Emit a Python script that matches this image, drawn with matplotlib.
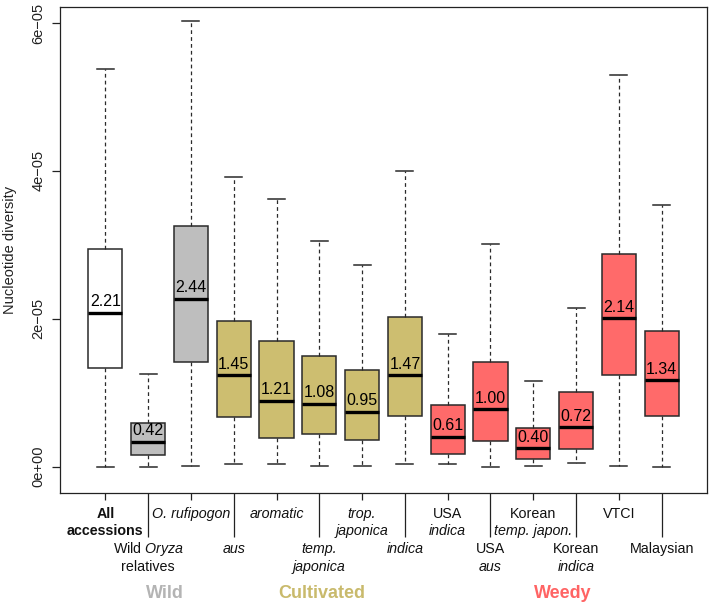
import matplotlib
matplotlib.use('Agg')
import matplotlib.pyplot as plt
from matplotlib.transforms import blended_transform_factory

plt.rcParams['font.family'] = ['Liberation Sans', 'DejaVu Sans']
plt.rcParams['mathtext.fontset'] = 'custom'
plt.rcParams['mathtext.rm'] = 'Liberation Sans'
plt.rcParams['mathtext.it'] = 'Liberation Sans:italic'
plt.rcParams['mathtext.bf'] = 'Liberation Sans:bold'

# ---------------- data (values in units of 1e-6) ----------------
groups = ['All accessions', 'Wild Oryza relatives', 'O. rufipogon', 'aus', 'aromatic',
          'temp. japonica', 'trop. japonica', 'indica', 'USA indica', 'USA aus',
          'Korean temp. japon.', 'Korean indica', 'VTCI', 'Malaysian']
whisk_lo = [0.0, 0.0, 0.1, 0.36, 0.36, 0.15, 0.1, 0.3, 0.4, 0.0, 0.15, 0.45, 0.1, 0.0]
q1 = [13.3, 1.54, 14.1, 6.7, 3.9, 4.4, 3.6, 6.9, 1.7, 3.5, 1.0, 2.4, 12.4, 6.86]
med = [20.8, 3.4, 22.7, 12.4, 8.9, 8.5, 7.4, 12.4, 4.06, 7.8, 2.5, 5.3, 20.1, 11.7]
q3 = [29.5, 5.95, 32.5, 19.7, 17.0, 14.9, 13.1, 20.2, 8.3, 14.1, 5.2, 10.1, 28.7, 18.35]
whisk_hi = [53.8, 12.5, 60.2, 39.2, 36.2, 30.5, 27.3, 40.0, 18.0, 30.1, 11.6, 21.4, 53.0, 35.4]
mean_labels = ['2.21', '0.42', '2.44', '1.45', '1.21', '1.08', '0.95', '1.47',
               '0.61', '1.00', '0.40', '0.72', '2.14', '1.34']
category = ['all', 'wild', 'wild', 'cult', 'cult', 'cult', 'cult', 'cult',
            'weedy', 'weedy', 'weedy', 'weedy', 'weedy', 'weedy']

# tick label lines: (text, style) where style is 'normal', 'italic', 'bold' or 'math'
tick_lines = [
    [('All', 'bold'), ('accessions', 'bold')],
    [(r'Wild $\mathit{Oryza}$', 'math'), ('relatives', 'normal')],
    [('O. rufipogon', 'italic')],
    [('aus', 'italic')],
    [('aromatic', 'italic')],
    [('temp.', 'italic'), ('japonica', 'italic')],
    [('trop.', 'italic'), ('japonica', 'italic')],
    [('indica', 'italic')],
    [('USA', 'normal'), ('indica', 'italic')],
    [('USA', 'normal'), ('aus', 'italic')],
    [('Korean', 'normal'), ('temp. japon.', 'italic')],
    [('Korean', 'normal'), ('indica', 'italic')],
    [('VTCI', 'normal')],
    [('Malaysian', 'normal')],
]
group_names = ['Wild', 'Cultivated', 'Weedy']
group_centers = [2.4, 6.06, 11.69]

fill_colors = {'all': 'white', 'wild': '#BEBEBE', 'cult': '#CDBE70', 'weedy': '#FF6A6A'}
text_colors = {'Wild': '#B4B4B4', 'Cultivated': '#C9BA6C', 'Weedy': '#FF6464'}

# ---------------- figure ----------------
W, H, DPI = 709, 605, 100
fig = plt.figure(figsize=(W / DPI, H / DPI), dpi=DPI)
ax = fig.add_axes([60 / W, (H - 493) / H, 647 / W, 486 / H])

scale = 1e-6
positions = list(range(1, len(groups) + 1))
stats = []
for i in range(len(groups)):
    stats.append(dict(label=groups[i], whislo=whisk_lo[i] * scale, q1=q1[i] * scale,
                      med=med[i] * scale, q3=q3[i] * scale, whishi=whisk_hi[i] * scale,
                      fliers=[]))

edge = '#2a2a2a'
bp = ax.bxp(stats, positions=positions, widths=0.8, patch_artist=True, showfliers=False,
            boxprops=dict(edgecolor=edge, linewidth=1.1),
            medianprops=dict(color='black', linewidth=2.4, solid_capstyle='butt'),
            whiskerprops=dict(color=edge, linewidth=0.9, linestyle=(0, (3, 2.5))),
            capprops=dict(color=edge, linewidth=1.1))
for patch, cat in zip(bp['boxes'], category):
    patch.set_facecolor(fill_colors[cat])

for x, m, lab in zip(positions, med, mean_labels):
    ax.annotate(lab, xy=(x, m * scale), xytext=(0, 2.5), textcoords='offset points',
                ha='center', va='bottom', fontsize=11.5, color='black')

ax.set_xlim(-0.06, 15.06)
ax.set_ylim(-3.56e-6, 6.216e-5)

# y axis
yt = [0, 2e-5, 4e-5, 6e-5]
ax.set_yticks(yt)
ax.set_yticklabels(['0e+00', '2e\u221205', '4e\u221205', '6e\u221205'], rotation=90,
                   va='center', fontsize=10.5, color='#222222')
ax.tick_params(axis='y', length=5.5, width=0.9, pad=5, colors='#222222')
fig.text(10 / W, (H - 250) / H, 'Nucleotide diversity', rotation=90, ha='center',
         va='center', fontsize=10.5, color='#222222')

# x axis: major (short) ticks at odd positions, minor (long) ticks at even positions
ax.set_xticks(positions[0::2])
ax.set_xticks(positions[1::2], minor=True)
ax.set_xticklabels([])
ax.tick_params(axis='x', which='major', length=5.2, width=0.9, colors='#222222')
ax.tick_params(axis='x', which='minor', length=31.7, width=0.9, colors='#222222')

for sp in ax.spines.values():
    sp.set_linewidth(0.9)
    sp.set_color('#222222')

trans = blended_transform_factory(ax.transData, ax.transAxes)
px2pt = 72 / DPI
top_tier = [21, 38]
bot_tier = [56, 74]
for i, lines in enumerate(tick_lines):
    offs = top_tier if i % 2 == 0 else bot_tier
    for k, (line, style) in enumerate(lines):
        kw = {}
        if style == 'italic':
            kw['fontstyle'] = 'italic'
        elif style == 'bold':
            kw['fontweight'] = 'bold'
        ax.annotate(line, xy=(positions[i], 0), xycoords=trans,
                    xytext=(0, -offs[k] * px2pt), textcoords='offset points',
                    ha='center', va='center', fontsize=10.3, color='#111111',
                    annotation_clip=False, **kw)

for name, xc in zip(group_names, group_centers):
    ax.annotate(name, xy=(xc, 0), xycoords=trans, xytext=(0, -101 * px2pt),
                textcoords='offset points', ha='center', va='center', fontsize=13,
                fontweight='bold', color=text_colors[name], annotation_clip=False)

fig.savefig('out.png', dpi=DPI)
